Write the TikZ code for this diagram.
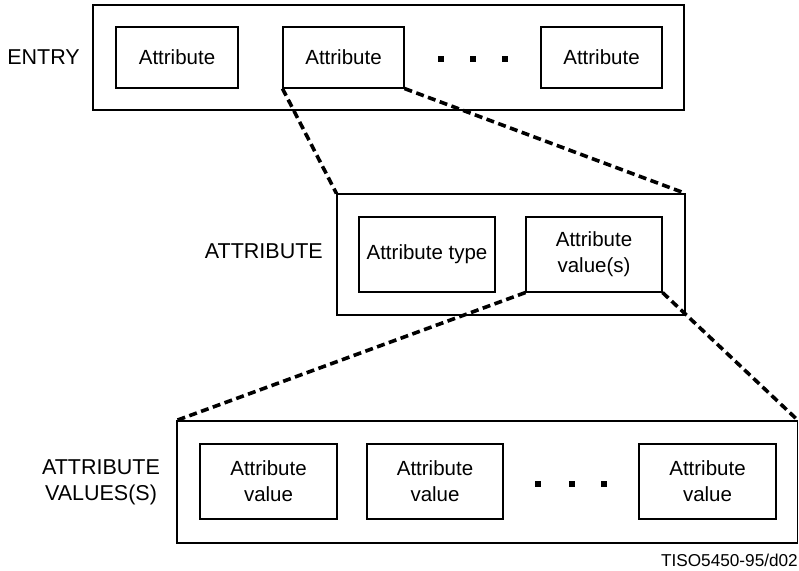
\documentclass[tikz,border=0pt]{standalone}
\usepackage{fontspec}
\setmainfont{Liberation Sans}
\begin{document}
\begin{tikzpicture}[x=1pt,y=-1pt,
  every node/.style={font=\fontsize{20.5}{26}\selectfont},
  frame/.style={draw,line width=1.1pt,inner sep=0pt,minimum width=#1},
  cell/.style={draw,line width=1.1pt,inner sep=0pt,align=center,minimum width=#1},
  lbl/.style={align=center,inner sep=0pt,font=\fontsize{21.5}{26}\selectfont},
  dot/.style={fill,inner sep=0pt,minimum size=5.5pt},
  zoomline/.style={line width=3.6pt,dash pattern=on 8pt off 4.5pt}]
\useasboundingbox (0,0) rectangle (799,570);
% ENTRY level
\node[frame=591pt,minimum height=105pt] (entry) at (388.5,57.5) {};
\node[cell=122pt,minimum height=61pt] (a1) at (177,57.5) {Attribute};
\node[cell=121pt,minimum height=61pt] (a2) at (343.5,57.5) {Attribute};
\node[cell=121pt,minimum height=61pt] (a3) at (601.5,57.5) {Attribute};
\node[dot] (d1) at (441,59) {};
\node[dot] (d2) at (473,59) {};
\node[dot] (d3) at (505,59) {};
\node[lbl,anchor=east] (lentry) at (80,57) {ENTRY};
% ATTRIBUTE level
\node[frame=348pt,minimum height=121pt] (attr) at (511,254.5) {};
\node[cell=136pt,minimum height=75pt] (atype) at (427,254.5) {Attribute type};
\node[cell=136pt,minimum height=75pt] (avals) at (594,254.5) {Attribute\\value(s)};
\node[lbl,anchor=east] (lattr) at (323,251) {ATTRIBUTE};
% ATTRIBUTE VALUES level
\node[frame=620.5pt,minimum height=122pt] (vals) at (487.25,482) {};
\node[cell=137pt,minimum height=75pt] (v1) at (268.5,481.5) {Attribute\\value};
\node[cell=136pt,minimum height=75pt] (v2) at (435,481.5) {Attribute\\value};
\node[cell=137pt,minimum height=75pt] (v3) at (707.5,481.5) {Attribute\\value};
\node[dot] (e1) at (538,484) {};
\node[dot] (e2) at (572,484) {};
\node[dot] (e3) at (604,484) {};
\node[lbl] (lvals) at (101,482) {ATTRIBUTE\\VALUES(S)};
\node[inner sep=0pt,anchor=east,font=\fontsize{17.2}{20}\selectfont] (tag) at (798,560) {TISO5450-95/d02};
% zoom connectors
\draw[zoomline] (a2.south west) -- (attr.north west);
\draw[zoomline] (a2.south east) -- (attr.north east);
\draw[zoomline] (avals.south west) -- (vals.north west);
\draw[zoomline] (avals.south east) -- (vals.north east);
\end{tikzpicture}
\end{document}
